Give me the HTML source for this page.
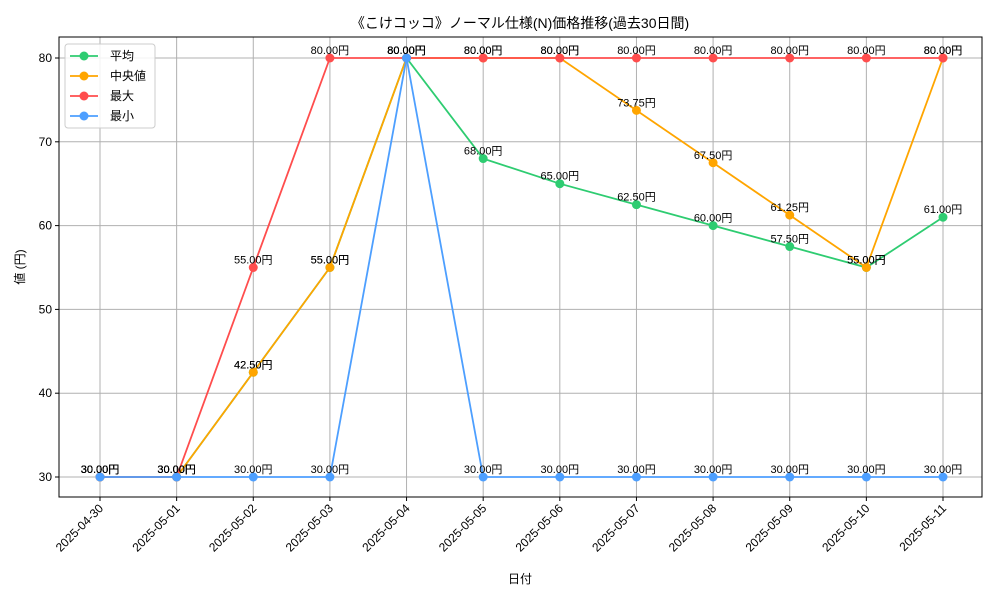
<!DOCTYPE html>
<html><head><meta charset="utf-8"><style>
body{margin:0;background:#fff}
svg{font-family:"Liberation Sans","Noto Sans CJK JP",sans-serif}
</style></head><body>
<svg id="c" width="1000" height="600" xmlns="http://www.w3.org/2000/svg"></svg>
<script>
const categories=["2025-04-30","2025-05-01","2025-05-02","2025-05-03","2025-05-04","2025-05-05","2025-05-06","2025-05-07","2025-05-08","2025-05-09","2025-05-10","2025-05-11"];
const avgValues=[30,30,42.5,55,80,68,65,62.5,60,57.5,55,61];
const medianValues=[30,30,42.5,55,80,80,80,73.75,67.5,61.25,55,80];
const maxValues=[30,30,55,80,80,80,80,80,80,80,80,80];
const minValues=[30,30,30,30,80,30,30,30,30,30,30,30];
const yTicks=[30,40,50,60,70,80];
const seriesNames=["平均","中央値","最大","最小"];
const colors=["#2ecc71","#ffa500","#ff4d4d","#4d9fff"];
const NS="http://www.w3.org/2000/svg";
const svg=document.getElementById("c");
const L=59,R=982,T=37,B=497;
const x=i=>100+i*(943-100)/(categories.length-1);
const y=v=>477-(v-30)*(477-58)/50;
function mk(tag,attrs,parent){const e=document.createElementNS(NS,tag);for(const k in attrs)e.setAttribute(k,attrs[k]);(parent||svg).appendChild(e);return e;}
// grid
categories.forEach((c,i)=>{
  const g=mk("line",{x1:x(i),x2:x(i),y1:T,y2:B,stroke:"#b0b0b0","stroke-width":1});
  
  
  const tk=mk("line",{x1:x(i),x2:x(i),y1:B,y2:B+4,stroke:"#000"});
  
  
  const t=mk("text",{x:0,y:0,"font-size":12,"text-anchor":"end",transform:`translate(${x(i)+4},${B+12}) rotate(-45)`});
  t.textContent=c;
  
  
});
yTicks.forEach(v=>{
  const g=mk("line",{x1:L,x2:R,y1:y(v),y2:y(v),stroke:"#b0b0b0","stroke-width":1});
  
  
  const tk=mk("line",{x1:L-4,x2:L,y1:y(v),y2:y(v),stroke:"#000"});
  
  
  const t=mk("text",{x:L-7,y:y(v)+4,"font-size":12,"text-anchor":"end"});
  t.textContent=v;
  
  
});
const fr=mk("rect",{x:L,y:T,width:R-L,height:B-T,fill:"none",stroke:"#000","stroke-width":1});


[avgValues,medianValues,maxValues,minValues].forEach((vals,s)=>{
  const p=mk("polyline",{points:vals.map((v,i)=>x(i)+","+y(v)).join(" "),fill:"none",stroke:colors[s],"stroke-width":1.8});
  
  
  vals.forEach((v,i)=>{
    const c=mk("circle",{cx:x(i),cy:y(v),r:4.5,fill:colors[s]});
    
    
    const t=mk("text",{x:x(i),y:y(v)-4,"font-size":11,"text-anchor":"middle",fill:"#000"});
    t.textContent=v.toFixed(2)+"円";
    
    
  });
});
// legend
const lg=mk("g",{});


mk("rect",{x:65,y:44,width:90,height:84,rx:3,fill:"#fff","fill-opacity":0.85,stroke:"#ccc"},lg);
seriesNames.forEach((n,s)=>{
  const yy=56+s*20;
  mk("line",{x1:70,x2:98,y1:yy,y2:yy,stroke:colors[s],"stroke-width":1.8},lg);
  const c=mk("circle",{cx:84,cy:yy,r:4.5,fill:colors[s]},lg);
  
  
  const t=mk("text",{x:110,y:yy+4,"font-size":12},lg);
  t.textContent=n;
  
  
});
const ti=mk("text",{x:520,y:28,"font-size":14,"text-anchor":"middle"});
ti.textContent="《こけコッコ》ノーマル仕様(N)価格推移(過去30日間)";


const xt=mk("text",{x:520,y:583,"font-size":12,"text-anchor":"middle"});
xt.textContent="日付";


const yt=mk("text",{x:0,y:0,"font-size":12,"text-anchor":"middle",transform:"translate(24,267) rotate(-90)"});
yt.textContent="値 (円)";


</script>
</body></html>
